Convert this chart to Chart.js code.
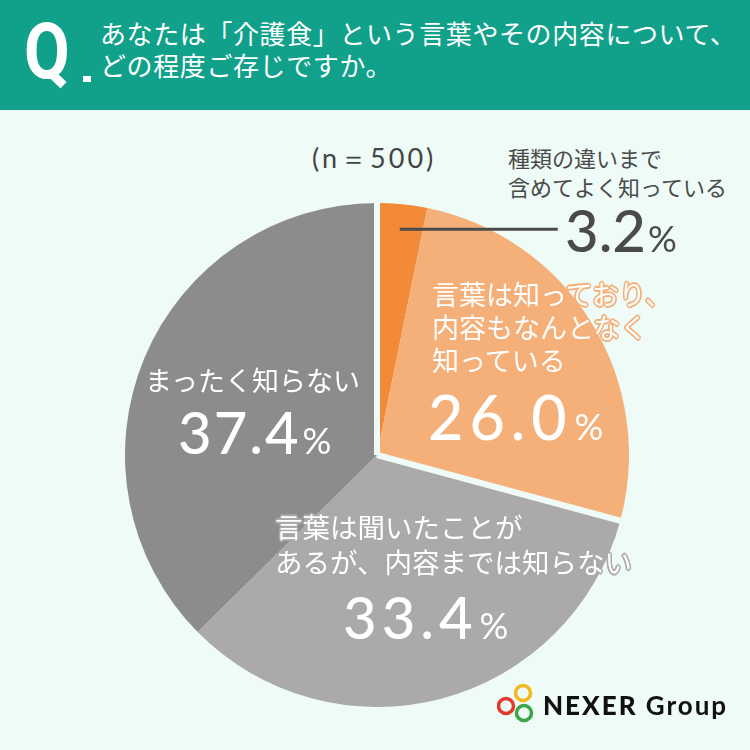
<!DOCTYPE html>
<html lang="ja">
<head>
<meta charset="utf-8">
<script src="https://cdn.jsdelivr.net/npm/chart.js@4.4.1/dist/chart.umd.min.js"></script>
<style>
  html, body { margin: 0; padding: 0; }
  body { width: 750px; height: 750px; background: #eefbf7; position: relative; overflow: hidden;
         font-family: "Noto Sans CJK JP", "Noto Sans", sans-serif; }
  #head { position: absolute; left: 0; top: 0; width: 750px; height: 110px; background: #11a18a; }
  .abs { position: absolute; white-space: nowrap; }
  #q { left: 24px; top: 2px; font: 700 78px Roboto, sans-serif; color: #fff; transform: scaleX(0.85); transform-origin: left top; line-height: 100px; }
  #qdot { left: 83px; top: 76px; width: 8px; height: 6px; background: #fff; }
  #title { left: 100px; top: 17px; color: #fff; font-size: 26px; letter-spacing: 0.6px; line-height: 32px; }
  #n { left: 312px; top: 138px; color: #444; font: 400 27px Lato, sans-serif; letter-spacing: 3px; line-height: 40px; }
  .lab { font-size: 27px; line-height: 33px; color: #fff; }
  .num { font-family: Lato, sans-serif; font-weight: 500; line-height: 1; color: #fff; }
  .num small { font-size: 36px; margin-left: 2px; font-weight: 400; letter-spacing: 0; }
  #logo { left: 497px; top: 683px; }
  #logoText { left: 543px; top: 689px; font: 900 26px Lato, sans-serif; color: #111; letter-spacing: 2px; }
  #logoText span { font-weight: 700; }
</style>
</head>
<body>
<div id="head"></div>
<div id="q" class="abs">Q</div>
<div id="qdot" class="abs"></div>
<div id="title" class="abs">あなたは「介護食」という言葉やその内容について、<br>どの程度ご存じですか。</div>
<div id="n" class="abs">(n＝500)</div>

<canvas id="pie" width="504" height="504" style="position:absolute;left:125px;top:203px;"></canvas>

<div id="lab0" class="abs" style="left:508px;top:143px;font-size:22px;line-height:29px;color:#4a4a4a;">種類の違いまで<br>含めてよく知っている</div>
<div id="num0" class="abs num" style="left:565px;top:201px;font-size:58px;color:#4a4a4a;">3.2<small>%</small></div>

<div id="lab1" class="abs lab" style="left:432px;top:277px;">言葉は知っており、<br>内容もなんとなく<br>知っている</div>
<div id="num1" class="abs num" style="left:428px;top:386px;font-size:61px;letter-spacing:6px;">26.0<small>%</small></div>

<div id="lab2" class="abs lab" style="left:275px;top:509px;line-height:35px;font-size:27.5px;">言葉は聞いたことが<br>あるが、内容までは知らない</div>
<div id="num2" class="abs num" style="left:343px;top:588px;font-size:58px;letter-spacing:5px;">33.4<small>%</small></div>

<div id="lab3" class="abs lab" style="left:145px;top:363px;">まったく知らない</div>
<div id="num3" class="abs num" style="left:178px;top:403px;font-size:58px;letter-spacing:2px;">37.4<small>%</small></div>

<svg id="logo" class="abs" width="44" height="44" viewBox="0 0 44 44">
  <circle cx="26" cy="10" r="7.5" fill="none" stroke="#f2b81c" stroke-width="3.5"/>
  <circle cx="9" cy="23" r="7.5" fill="none" stroke="#e2392c" stroke-width="3.5"/>
  <circle cx="27" cy="30" r="7.5" fill="none" stroke="#3aa648" stroke-width="3.5"/>
</svg>
<div id="logoText" class="abs">NEXER <span>Group</span></div>

<script>
const categories = [
  "種類の違いまで含めてよく知っている",
  "言葉は知っており、内容もなんとなく知っている",
  "言葉は聞いたことがあるが、内容までは知らない",
  "まったく知らない"
];
const values = [3.2, 26.0, 33.4, 37.4];
const colors = ["#f28a38", "#f5af79", "#aba9aa", "#8c8c8c"];
const BG = "#eefbf7";
// gaps drawn after these slices (between the orange and gray groups)
const gapAfter = [1, 3];

// outline on label text in the slice colour
[1, 2, 3].forEach(i => {
  const c = colors[i];
  const s = [];
  for (let a = 0; a < 360; a += 45) {
    const r = a * Math.PI / 180;
    s.push((Math.cos(r) * 1.6).toFixed(1) + "px " + (Math.sin(r) * 1.6).toFixed(1) + "px 0 " + c);
  }
  document.getElementById("lab" + i).style.textShadow = s.join(",");
});

const gapLines = {
  id: "gapLines",
  afterDatasetsDraw(chart) {
    const arcs = chart.getDatasetMeta(0).data;
    const ctx = chart.ctx;
    ctx.save();
    ctx.strokeStyle = BG;
    ctx.lineWidth = 6;
    gapAfter.forEach(i => {
      const a = arcs[i];
      const r = a.outerRadius + 3;
      ctx.beginPath();
      ctx.moveTo(a.x, a.y);
      ctx.lineTo(a.x + Math.cos(a.endAngle) * r, a.y + Math.sin(a.endAngle) * r);
      ctx.stroke();
    });
    // leader line for the small slice
    const s = arcs[0];
    const mid = (s.startAngle + s.endAngle) / 2;
    const x0 = s.x + Math.cos(mid) * s.outerRadius * 0.9;
    const y0 = s.y + Math.sin(mid) * s.outerRadius * 0.9;
    ctx.strokeStyle = "#4a4a4a";
    ctx.lineWidth = 3;
    ctx.beginPath();
    ctx.moveTo(x0, y0);
    ctx.lineTo(x0 + 158, y0);
    ctx.stroke();
    ctx.restore();
  }
};

new Chart(document.getElementById("pie"), {
  type: "pie",
  data: {
    labels: categories,
    datasets: [
      {
        data: values,
        backgroundColor: colors,
        borderWidth: 0,
      },
    ],
  },
  options: {
    responsive: false,
    animation: false,
    layout: { padding: 0 },
    plugins: {
      legend: { display: false },
      tooltip: { enabled: false },
    },
  },
  plugins: [gapLines],
});
</script>
</body>
</html>
